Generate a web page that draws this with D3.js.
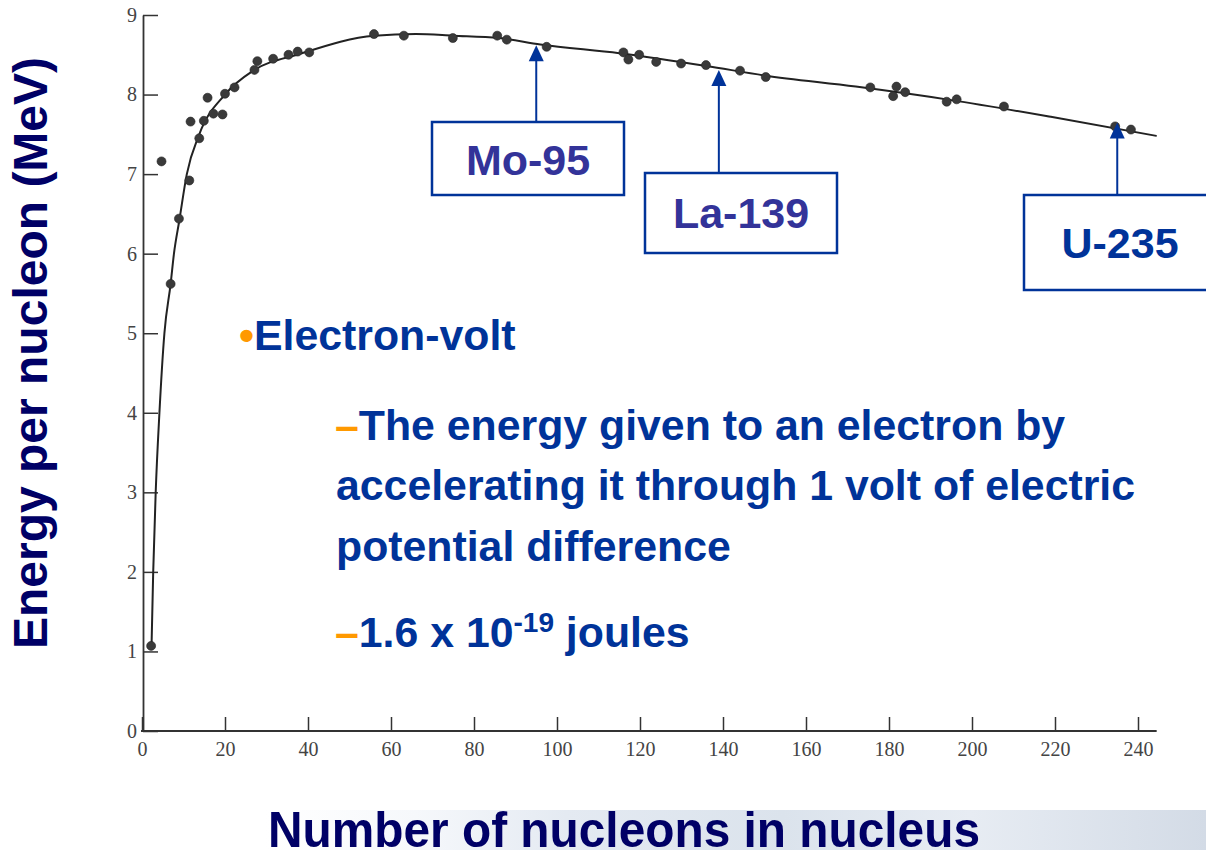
<!DOCTYPE html>
<html lang="en">
<head>
<meta charset="utf-8">
<script src="https://d3js.org/d3.v7.min.js"></script>
<style>
  body { margin: 0; background: #fff; }
  svg text.tick-num { font-family: "Liberation Serif", "DejaVu Serif", serif; font-size: 20px; fill: #444; }
  svg text.slide { font-family: "Liberation Sans", Arial, sans-serif; font-weight: bold; }
</style>
</head>
<body>
<script>
// binding energy per nucleon
const massNumbers = [2.2, 4.7, 6.9, 8.9, 11.4, 11.7, 13.8, 14.9, 15.8, 17.2, 19.4, 20, 22.3, 27.1, 27.8,
  31.6, 35.3, 37.5, 40.3, 55.9, 63.1, 74.9, 85.6, 87.9, 97.5, 116, 117.2, 119.8, 123.9, 129.9,
  135.9, 144.1, 150.3, 175.5, 181, 181.8, 183.9, 193.9, 196.3, 207.7, 234.5, 238.3];
const energies = [1.07, 7.16, 5.62, 6.44, 6.92, 7.66, 7.45, 7.67, 7.96, 7.76, 7.75, 8.01, 8.09, 8.31, 8.42,
  8.45, 8.50, 8.54, 8.53, 8.76, 8.74, 8.71, 8.74, 8.69, 8.60, 8.53, 8.44, 8.50, 8.41, 8.39,
  8.37, 8.30, 8.22, 8.09, 7.98, 8.10, 8.03, 7.91, 7.94, 7.85, 7.60, 7.56];

// hand drawn fit line through the points
const curveA = [2.3, 2.7, 3.3, 4.2, 5.4, 6.9, 7.7, 9, 10.8, 13.8, 20, 26.8, 38, 56, 66, 75, 86, 96, 115, 136, 150, 172, 195, 219, 244.5];
const curveE = [1.07, 2, 3, 4, 5, 5.62, 6.0, 6.42, 7.0, 7.5, 8.0, 8.3, 8.51, 8.74, 8.76, 8.74, 8.71, 8.63, 8.52, 8.36, 8.24, 8.1, 7.93, 7.72, 7.48];

const xTicks = [0, 20, 40, 60, 80, 100, 120, 140, 160, 180, 200, 220, 240];
const yTicks = [0, 1, 2, 3, 4, 5, 6, 7, 8, 9];

const labels = ["Mo-95", "La-139", "U-235"];
const labelA = [95, 139, 235];
const labelE = [8.62, 8.31, 7.65];

const W = 1206, H = 850;
const blue = "#003399", navy = "#000066", orange = "#ff9900";
const fs = 42.8;

const svg = d3.select("body").append("svg")
  .attr("width", W)
  .attr("height", H);

const x = d3.scaleLinear().domain([0, 240]).range([142, 1138]);
const y = d3.scaleLinear().domain([0, 9]).range([731, 15]);

// bottom strip picture (approximated with a gradient)
const grad = svg.append("defs").append("linearGradient").attr("id", "strip");
[["0%", "#ffffff"], ["16%", "#f6f8fb"], ["32%", "#e4eaf2"], ["55%", "#dbe3ec"], ["75%", "#e7ecf3"], ["100%", "#d3dbe6"]]
  .forEach(s => grad.append("stop").attr("offset", s[0]).attr("stop-color", s[1]));
svg.append("rect")
  .attr("x", 265).attr("y", 810)
  .attr("width", W - 265).attr("height", 40)
  .attr("fill", "url(#strip)");

// axes
const xAxis = d3.axisBottom(x).tickValues(xTicks).tickSize(-14).tickPadding(11);
const gx = svg.append("g").attr("transform", "translate(0," + y(0) + ")").call(xAxis);
gx.select(".domain").remove();
gx.selectAll("line").attr("stroke", "#333").attr("stroke-width", 1.5);
gx.selectAll("text").attr("class", "tick-num").attr("fill", null).attr("dy", "0.72em");
gx.append("line")
  .attr("x1", x(0) - 1).attr("x2", x(244.5))
  .attr("stroke", "#333").attr("stroke-width", 1.8);

const yAxis = d3.axisLeft(y).tickValues(yTicks).tickSize(-15).tickSizeOuter(0).tickPadding(6);
const gy = svg.append("g").attr("transform", "translate(" + (x(0) + 1) + ",0)").call(yAxis);
gy.select(".domain").attr("stroke", "#333").attr("stroke-width", 1.8);
gy.selectAll("line").attr("stroke", "#333").attr("stroke-width", 1.5);
gy.selectAll("text").attr("class", "tick-num").attr("fill", null);

// fit curve
const line = d3.line()
  .x(d => x(d[0]))
  .y(d => y(d[1]))
  .curve(d3.curveMonotoneX);
svg.append("path")
  .datum(d3.zip(curveA, curveE))
  .attr("d", line)
  .attr("fill", "none")
  .attr("stroke", "#222")
  .attr("stroke-width", 2);

// data points
svg.selectAll("circle.pt")
  .data(d3.zip(massNumbers, energies))
  .enter()
  .append("circle")
  .attr("class", "pt")
  .attr("cx", d => x(d[0]))
  .attr("cy", d => y(d[1]))
  .attr("r", 4.5)
  .attr("fill", "#3a3a3a")
  .attr("stroke", "#222")
  .attr("stroke-width", 0.6);

// labelled isotopes: box, arrow up to the curve
const boxes = [
  { x0: 432, y0: 122, w: 192, h: 73, tx: 528, ty: 175, col: "#333399" },
  { x0: 645, y0: 173, w: 192, h: 80, tx: 741, ty: 228, col: "#333399" },
  { x0: 1024, y0: 195, w: 200, h: 95, tx: 1120, ty: 258, col: blue }
];
labels.forEach((name, i) => {
  const b = boxes[i];
  const ax = x(labelA[i]), tipY = y(labelE[i]);
  svg.append("line")
    .attr("x1", ax).attr("x2", ax)
    .attr("y1", b.y0).attr("y2", tipY + 14)
    .attr("stroke", blue).attr("stroke-width", 2);
  svg.append("path")
    .attr("d", "M" + ax + "," + tipY + "L" + (ax - 7.5) + "," + (tipY + 16) + "L" + (ax + 7.5) + "," + (tipY + 16) + "Z")
    .attr("fill", blue);
  svg.append("rect")
    .attr("x", b.x0).attr("y", b.y0)
    .attr("width", b.w).attr("height", b.h)
    .attr("fill", "#fff")
    .attr("stroke", blue).attr("stroke-width", 2.5);
  svg.append("text")
    .attr("class", "slide")
    .attr("x", b.tx).attr("y", b.ty)
    .attr("text-anchor", "middle")
    .attr("font-size", 43)
    .attr("fill", b.col)
    .text(name);
});

// slide text
const t1 = svg.append("text").attr("class", "slide").attr("x", 239).attr("y", 350).attr("font-size", fs);
t1.append("tspan").attr("fill", orange).text("•");
t1.append("tspan").attr("fill", blue).text("Electron-volt");

const t2 = svg.append("text").attr("class", "slide").attr("x", 335).attr("y", 440).attr("font-size", fs);
t2.append("tspan").attr("fill", orange).text("–");
t2.append("tspan").attr("fill", blue).text("The energy given to an electron by");

svg.append("text").attr("class", "slide").attr("x", 336).attr("y", 500).attr("font-size", fs)
  .attr("fill", blue).text("accelerating it through 1 volt of electric");
svg.append("text").attr("class", "slide").attr("x", 336).attr("y", 561).attr("font-size", fs)
  .attr("fill", blue).text("potential difference");

const t3 = svg.append("text").attr("class", "slide").attr("x", 335).attr("y", 647).attr("font-size", fs);
t3.append("tspan").attr("fill", orange).text("–");
t3.append("tspan").attr("fill", blue).text("1.6 x 10");
t3.append("tspan").attr("fill", blue).attr("font-size", 28).attr("dy", -15).text("-19");
t3.append("tspan").attr("fill", blue).attr("dy", 15).text(" joules");

// axis titles
svg.append("text")
  .attr("class", "slide")
  .attr("transform", "translate(47,353) rotate(-90)")
  .attr("text-anchor", "middle")
  .attr("font-size", 48)
  .attr("fill", navy)
  .text("Energy per nucleon (MeV)");

svg.append("text")
  .attr("class", "slide")
  .attr("x", 268).attr("y", 847)
  .attr("font-size", 50)
  .attr("textLength", 712)
  .attr("lengthAdjust", "spacingAndGlyphs")
  .attr("fill", navy)
  .style("font-family", "'Liberation Sans Narrow', 'Liberation Sans', Arial, sans-serif")
  .text("Number of nucleons in nucleus");
</script>
</body>
</html>
